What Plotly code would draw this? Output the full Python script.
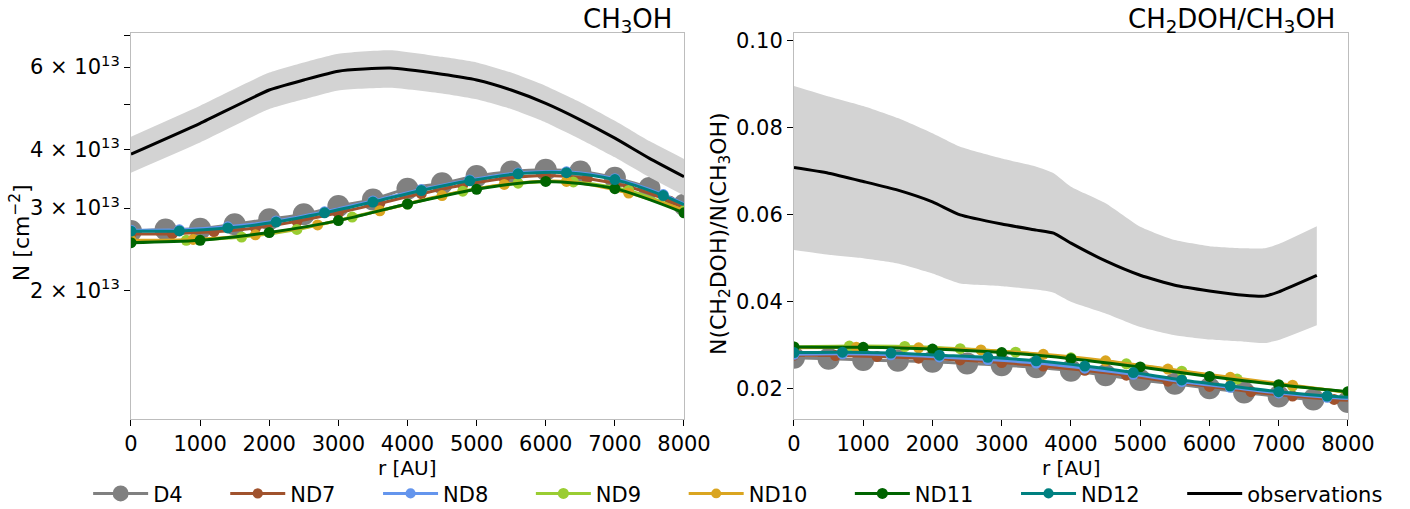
import plotly.graph_objects as go

# radial grids (AU) at which each model shows markers; last point closes the line at 8000 AU
R_D4 = [0, 500, 1000, 1500, 2000, 2500, 3000, 3500, 4000, 4500, 5000, 5500, 6000, 6500, 7000, 7500, 8000]
R_ND7 = [0, 600, 1200, 1800, 2400, 3000, 3600, 4200, 4800, 5400, 6000, 6600, 7200, 7800, 8000]
R_ND8 = [0, 700, 1400, 2100, 2800, 3500, 4200, 4900, 5600, 6300, 7000, 7700, 8000]
R_ND9 = [0, 800, 1600, 2400, 3200, 4000, 4800, 5600, 6400, 7200, 8000]
R_ND10 = [0, 900, 1800, 2700, 3600, 4500, 5400, 6300, 7200, 8000]
R_ND11 = [0, 1000, 2000, 3000, 4000, 5000, 6000, 7000, 8000]
R_ND12 = [0, 700, 1400, 2100, 2800, 3500, 4200, 4900, 5600, 6300, 7000, 7700, 8000]

# CH3OH column density (cm^-2)
N_D4 = [2.68e13, 2.70e13, 2.71e13, 2.77e13, 2.84e13, 2.91e13, 3.03e13, 3.13e13, 3.30e13, 3.39e13,
        3.51e13, 3.59e13, 3.62e13, 3.59e13, 3.48e13, 3.31e13, 3.05e13]
N_ND7 = [2.64e13, 2.645e13, 2.67e13, 2.72e13, 2.81e13, 2.93e13, 3.07e13, 3.22e13, 3.36e13, 3.47e13,
         3.52e13, 3.47e13, 3.33e13, 3.10e13, 3.00e13]
N_ND8 = [2.69e13, 2.695e13, 2.735e13, 2.815e13, 2.945e13, 3.105e13, 3.285e13, 3.445e13, 3.565e13,
         3.585e13, 3.465e13, 3.205e13, 3.06e13]
N_ND9 = [2.55e13, 2.56e13, 2.60e13, 2.70e13, 2.87e13, 3.06e13, 3.26e13, 3.39e13, 3.41e13, 3.27e13, 2.96e13]
N_ND10 = [2.56e13, 2.57e13, 2.63e13, 2.76e13, 2.96e13, 3.19e13, 3.37e13, 3.42e13, 3.23e13, 2.97e13]
N_ND11 = [2.53e13, 2.56e13, 2.66e13, 2.82e13, 3.06e13, 3.29e13, 3.42e13, 3.30e13, 2.93e13]
N_ND12 = [2.677e13, 2.68e13, 2.72e13, 2.80e13, 2.93e13, 3.09e13, 3.27e13, 3.43e13, 3.55e13, 3.57e13,
          3.45e13, 3.19e13, 3.05e13]

# CH2DOH/CH3OH ratio
D_D4 = [0.0270, 0.0268, 0.0265, 0.0263, 0.0261, 0.0257, 0.0253, 0.0248, 0.0240, 0.0230, 0.0219,
        0.0210, 0.0200, 0.0190, 0.0181, 0.0174, 0.0168]
D_ND7 = [0.0276, 0.0275, 0.0273, 0.0269, 0.0265, 0.0259, 0.0251, 0.0241, 0.0230, 0.0216, 0.0204,
         0.0192, 0.0182, 0.0174, 0.0172]
D_ND8 = [0.0278, 0.0279, 0.0277, 0.0272, 0.0266, 0.0258, 0.0246, 0.0232, 0.0215, 0.0202, 0.0189,
         0.0179, 0.0176]
D_ND9 = [0.0295, 0.0297, 0.0296, 0.0291, 0.0283, 0.0270, 0.0256, 0.0239, 0.0221, 0.0205, 0.0191]
D_ND10 = [0.0293, 0.0294, 0.0293, 0.0288, 0.0278, 0.0263, 0.0244, 0.0225, 0.0207, 0.0190]
D_ND11 = [0.0295, 0.0294, 0.0290, 0.0282, 0.0268, 0.0249, 0.0227, 0.0208, 0.0192]
D_ND12 = [0.0282, 0.0283, 0.0281, 0.0276, 0.0271, 0.0263, 0.0251, 0.0236, 0.0219, 0.0205, 0.0192,
          0.0182, 0.0179]

# observations
R_OBS_N = [0, 1000, 2000, 2500, 3000, 3750, 4500, 5000, 5500, 6000, 6500, 7000, 7500, 8000]
OBS_N = [3.91e13, 4.55e13, 5.36e13, 5.63e13, 5.88e13, 5.97e13, 5.79e13, 5.63e13, 5.36e13, 5.02e13,
         4.63e13, 4.23e13, 3.83e13, 3.50e13]
OBS_N_HI = [4.26e13, 4.96e13, 5.84e13, 6.14e13, 6.41e13, 6.52e13, 6.31e13, 6.14e13, 5.84e13, 5.47e13,
            5.05e13, 4.61e13, 4.17e13, 3.82e13]
OBS_N_LO = [3.57e13, 4.14e13, 4.88e13, 5.12e13, 5.35e13, 5.42e13, 5.27e13, 5.12e13, 4.88e13, 4.57e13,
            4.21e13, 3.85e13, 3.49e13, 3.19e13]

R_OBS_D = [0, 500, 1000, 1500, 2000, 2400, 3000, 3500, 3750, 4000, 4500, 5000, 5500, 6000, 6500, 6800, 7000, 7550]
OBS_D = [0.0708, 0.0695, 0.0676, 0.0656, 0.0629, 0.0599, 0.0578, 0.0564, 0.0557, 0.0534, 0.0493,
         0.0460, 0.0437, 0.0424, 0.0414, 0.0412, 0.0422, 0.0460]
OBS_D_HI = [0.0896, 0.0872, 0.0850, 0.0822, 0.0787, 0.0756, 0.0729, 0.0710, 0.0695, 0.0664, 0.0626,
            0.0572, 0.0541, 0.0527, 0.0522, 0.0522, 0.0532, 0.0573]
OBS_D_LO = [0.0518, 0.0507, 0.0499, 0.0487, 0.0464, 0.0441, 0.0435, 0.0427, 0.0420, 0.0399, 0.0372,
            0.0341, 0.0322, 0.0312, 0.0307, 0.0304, 0.0311, 0.0345]

MODELS = [
    ("D4", "#808080", 22, R_D4, N_D4, D_D4),
    ("ND7", "#a0522d", 11, R_ND7, N_ND7, D_ND7),
    ("ND8", "#6495ed", 11, R_ND8, N_ND8, D_ND8),
    ("ND9", "#9acd32", 11, R_ND9, N_ND9, D_ND9),
    ("ND10", "#daa520", 11, R_ND10, N_ND10, D_ND10),
    ("ND11", "#006400", 11, R_ND11, N_ND11, D_ND11),
    ("ND12", "#008080", 11, R_ND12, N_ND12, D_ND12),
]

FONT = "DejaVu Sans"
BAND = "#d3d3d3"
SPINE = "#bdbdbd"
PAD = "\u00a0" * 5 + "\u2009"   # widens legend entries like matplotlib's columnspacing

fig = go.Figure()

for name, color, msize, r, n_vals, d_vals in MODELS:
    # endpoint at 8000 only gets a marker if it is on the marker grid
    sizes = [msize] * len(r)
    if r[-1] - r[-2] != r[1] - r[0]:
        sizes[-1] = 0
    for xa, ya, vals, show in (("x", "y", n_vals, True), ("x2", "y2", d_vals, False)):
        fig.add_trace(go.Scatter(
            x=r, y=vals, xaxis=xa, yaxis=ya, name=name + PAD, legendgroup=name, showlegend=show,
            mode="lines+markers",
            line={"color": color, "width": 3, "shape": "spline", "smoothing": 0.8},
            marker={"color": color, "size": sizes, "opacity": 1, "line": {"width": 0}},
        ))

for xa, ya, r, lo, hi, mid, show in (("x", "y", R_OBS_N, OBS_N_LO, OBS_N_HI, OBS_N, True),
                                     ("x2", "y2", R_OBS_D, OBS_D_LO, OBS_D_HI, OBS_D, False)):
    fig.add_trace(go.Scatter(x=r, y=lo, xaxis=xa, yaxis=ya, mode="lines", line={"width": 0, "color": BAND,
                             "shape": "spline", "smoothing": 0.5}, showlegend=False, hoverinfo="skip"))
    fig.add_trace(go.Scatter(x=r, y=hi, xaxis=xa, yaxis=ya, mode="lines", fill="tonexty", fillcolor=BAND,
                             line={"width": 0, "color": BAND, "shape": "spline", "smoothing": 0.5},
                             showlegend=False, hoverinfo="skip"))
    fig.add_trace(go.Scatter(x=r, y=mid, xaxis=xa, yaxis=ya, mode="lines", name="observations",
                             legendgroup="obs", showlegend=show,
                             line={"color": "black", "width": 3, "shape": "spline", "smoothing": 0.5}))

axis_common = dict(
    showline=True, linecolor=SPINE, linewidth=1, mirror=True, showgrid=False, zeroline=False,
    ticks="outside", ticklen=6, tickwidth=1, tickcolor="black", automargin=False,
    tickfont={"family": FONT, "size": 21, "color": "black"},
)

fig.update_layout(
    width=1410, height=509,
    paper_bgcolor="white", plot_bgcolor="white",
    margin={"l": 0, "r": 0, "t": 0, "b": 0, "autoexpand": False},
    font={"family": FONT, "size": 21, "color": "black"},
    xaxis=dict(axis_common, domain=[0.0929, 0.4851], range=[0, 8000], tickvals=list(range(0, 8001, 1000))),
    yaxis=dict(axis_common, type="log", range=[13.0265, 13.851], domain=[0.1768, 0.9352],
               tickvals=[2e13, 3e13, 4e13, 5e13, 6e13, 7e13],
               ticktext=["2 × 10<sup>13</sup>", "3 × 10<sup>13</sup>", "4 × 10<sup>13</sup>", "",
                         "6 × 10<sup>13</sup>", ""]),
    xaxis2=dict(axis_common, domain=[0.5631, 0.9560], range=[0, 8000], tickvals=list(range(0, 8001, 1000)),
                anchor="y2"),
    yaxis2=dict(axis_common, range=[0.0129, 0.1018], domain=[0.1768, 0.9352], anchor="x2",
                tickvals=[0.02, 0.04, 0.06, 0.08, 0.10], ticktext=["0.02", "0.04", "0.06", "0.08", "0.10"]),
    legend={
        "orientation": "h", "xanchor": "center", "x": 0.5235, "yanchor": "middle", "y": 0.03,
        "font": {"family": FONT, "size": 21}, "bgcolor": "rgba(0,0,0,0)", "itemwidth": 55,
    },
    showlegend=True,
)

# axis titles and panel labels placed as in the original figure
labels = [
    ("r [AU]", 0.289, 0.081, 0, "center", 20),
    ("r [AU]", 0.7596, 0.081, 0, "center", 20),
    ("N [cm<sup>−2</sup>]", 0.0142, 0.542, -90, "center", 22),
    ("N(CH<sub>2</sub>DOH)/N(CH<sub>3</sub>OH)", 0.5106, 0.542, -90, "center", 22),
    ("CH<sub>3</sub>OH", 0.478, 0.9607, 0, "right", 26),
    ("CH<sub>2</sub>DOH/CH<sub>3</sub>OH", 0.948, 0.9607, 0, "right", 26),
]
for text, x, y, angle, xanchor, size in labels:
    fig.add_annotation(text=text, xref="paper", yref="paper", x=x, y=y, textangle=angle,
                       xanchor=xanchor, yanchor="middle", showarrow=False,
                       font={"family": FONT, "size": size, "color": "black"})

# the page's default body margin would offset the figure by 8 px
fig.write_html("out.html", config={"displayModeBar": False},
               post_script="document.body.style.margin='0px';")
